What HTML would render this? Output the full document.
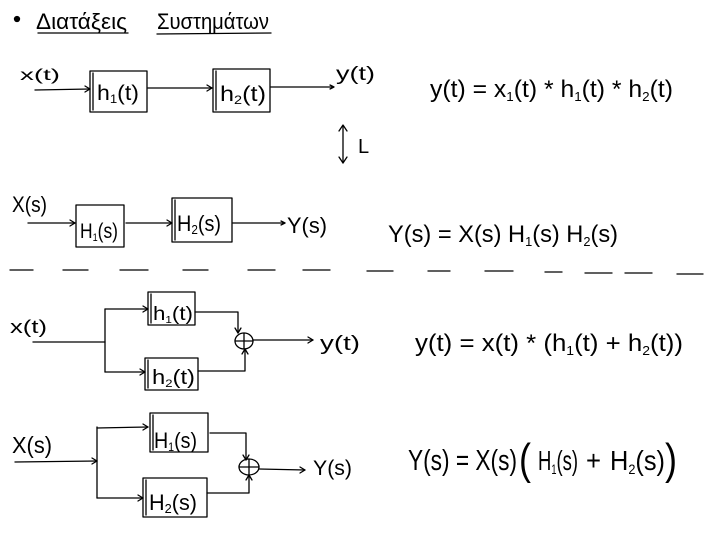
<!DOCTYPE html>
<html><head><meta charset="utf-8"><style>
html,body{margin:0;padding:0;background:#fff;}
svg{display:block;}
text{font-family:"Liberation Sans",sans-serif;fill:#000;}
</style></head><body>
<svg width="720" height="540" viewBox="0 0 720 540" xmlns="http://www.w3.org/2000/svg">
<g stroke="#000" stroke-width="1.3" fill="none" stroke-linecap="round" stroke-linejoin="round">
<!-- title -->
<circle cx="17" cy="19" r="2.5" fill="#000"/>
<path d="M38 33 L128 33"/>
<path d="M157 34 L271 33"/>

<!-- row 1 -->
<path d="M35 90 L90 89"/><path d="M85 86 L90 89 L85 92"/>
<rect x="90" y="71" width="57" height="41"/>
<path d="M93 73 L93 110"/>
<path d="M148 88 L212 88"/><path d="M207 85 L212 88 L207 91"/>
<rect x="213" y="69" width="57" height="43"/>
<path d="M216 71 L216 110"/>
<path d="M271 87 L333 87"/><path d="M330 85 L334 87 L330 89"/>
<!-- double arrow -->
<path d="M343 126 L343 163"/><path d="M339 131 L343 125 L347 131"/><path d="M339 157 L343 163 L347 157"/>

<!-- row 2 -->
<path d="M28 223 L75 223"/><path d="M70 220 L75 223 L70 226"/>
<rect x="76" y="205" width="48" height="42"/>
<path d="M126 223 L172 223"/><path d="M167 220 L172 223 L167 226"/>
<rect x="172" y="198" width="60" height="44"/>
<path d="M175 200 L175 240"/>
<path d="M233 223 L285 223"/><path d="M281 221 L285 223 L281 225"/>

<!-- dashed separator -->
<path d="M10 270 L33 270 M63 270 L88 270 M120 270 L148 270 M183 270 L208 270 M248 270 L275 270 M303 270 L330 270 M367 271 L393 271 M428 271 L450 271 M485 271 L513 271 M545 272 L562 272 M585 273 L612 273 M625 273 L652 273 M677 274 L703 274"/>

<!-- row 3 -->
<path d="M33 342 L105 342"/>
<path d="M105 309 L105 372"/>
<path d="M105 309 L148 309"/><path d="M143 306 L148 309 L143 312"/>
<rect x="148" y="292" width="47" height="33"/>
<path d="M151 294 L151 323"/>
<path d="M195 312 L238 312 L238 333"/><path d="M235 328 L238 333 L241 328"/>
<ellipse cx="244" cy="341" rx="9" ry="8"/>
<path d="M235 341 L253 341 M244 333 L244 349"/>
<path d="M105 372 L145 372"/><path d="M140 369 L145 372 L140 375"/>
<rect x="145" y="358" width="53" height="32"/>
<path d="M148 360 L148 388"/>
<path d="M198 371 L245 371 L245 349"/><path d="M242 354 L245 349 L248 354"/>
<path d="M253 340 L313 340"/><path d="M308 337 L313 340 L308 343"/>

<!-- row 4 -->
<path d="M15 462 L97 461"/><path d="M92 458 L97 461 L92 464"/>
<path d="M97 427 L97 498"/>
<path d="M97 428 L148 427"/><path d="M143 424 L148 427 L143 430"/>
<rect x="150" y="413" width="58" height="39"/>
<path d="M153 415 L153 450"/>
<path d="M210 433 L246 433 L246 460"/><path d="M243 455 L246 460 L249 455"/>
<ellipse cx="249" cy="467" rx="10" ry="8"/>
<path d="M239 467 L259 467 M249 459 L249 475"/>
<path d="M97 498 L143 498"/><path d="M138 495 L143 498 L138 501"/>
<rect x="143" y="478" width="64" height="39"/>
<path d="M146 480 L146 515"/>
<path d="M207 493 L249 493 L249 475"/><path d="M246 480 L249 475 L252 480"/>
<path d="M259 469 L305 470"/><path d="M300 467 L305 470 L300 473"/>
</g>

<!-- text -->
<text x="36" y="29" font-size="22" textLength="91" lengthAdjust="spacingAndGlyphs">Διατάξεις</text>
<text x="157" y="29" font-size="22" textLength="112" lengthAdjust="spacingAndGlyphs">Συστημάτων</text>

<text x="20" y="80" font-size="16" textLength="40" lengthAdjust="spacingAndGlyphs">x(t)</text>
<text x="97" y="100" font-size="21" textLength="42" lengthAdjust="spacingAndGlyphs">h<tspan font-size="12" dy="3">1</tspan><tspan dy="-3">(t)</tspan></text>
<text x="220" y="101" font-size="21" textLength="46" lengthAdjust="spacingAndGlyphs">h<tspan font-size="12" dy="3">2</tspan><tspan dy="-3">(t)</tspan></text>
<text x="336" y="80" font-size="19" textLength="39" lengthAdjust="spacingAndGlyphs">y(t)</text>
<text x="358" y="153" font-size="20">L</text>
<text x="430" y="97" font-size="24" textLength="243" lengthAdjust="spacingAndGlyphs">y(t) = x<tspan font-size="13" dy="4">1</tspan><tspan dy="-4">(t) * h</tspan><tspan font-size="13" dy="4">1</tspan><tspan dy="-4">(t) * h</tspan><tspan font-size="13" dy="4">2</tspan><tspan dy="-4">(t)</tspan></text>

<text x="12" y="212" font-size="22" textLength="35" lengthAdjust="spacingAndGlyphs">X(s)</text>
<text x="80" y="238" font-size="21" textLength="38" lengthAdjust="spacingAndGlyphs">H<tspan font-size="11" dy="3">1</tspan><tspan dy="-3">(s)</tspan></text>
<text x="177" y="231" font-size="22" textLength="44" lengthAdjust="spacingAndGlyphs">H<tspan font-size="13" dy="3">2</tspan><tspan dy="-3">(s)</tspan></text>
<text x="287" y="233" font-size="22" textLength="40" lengthAdjust="spacingAndGlyphs">Y(s)</text>
<text x="388" y="242" font-size="24" textLength="230" lengthAdjust="spacingAndGlyphs">Y(s) = X(s) H<tspan font-size="13" dy="4">1</tspan><tspan dy="-4">(s) H</tspan><tspan font-size="13" dy="4">2</tspan><tspan dy="-4">(s)</tspan></text>

<text x="10" y="333" font-size="18" textLength="37" lengthAdjust="spacingAndGlyphs">x(t)</text>
<text x="153" y="320" font-size="19" textLength="40" lengthAdjust="spacingAndGlyphs">h<tspan font-size="10" dy="3">1</tspan><tspan dy="-3">(t)</tspan></text>
<text x="152" y="384" font-size="20" textLength="43" lengthAdjust="spacingAndGlyphs">h<tspan font-size="11" dy="3">2</tspan><tspan dy="-3">(t)</tspan></text>
<text x="320" y="350" font-size="20" textLength="40" lengthAdjust="spacingAndGlyphs">y(t)</text>
<text x="415" y="351" font-size="24" textLength="268" lengthAdjust="spacingAndGlyphs">y(t) = x(t) * (h<tspan font-size="13" dy="4">1</tspan><tspan dy="-4">(t) + h</tspan><tspan font-size="13" dy="4">2</tspan><tspan dy="-4">(t))</tspan></text>

<text x="12" y="453" font-size="23" textLength="40" lengthAdjust="spacingAndGlyphs">X(s)</text>
<text x="154" y="448" font-size="22" textLength="43" lengthAdjust="spacingAndGlyphs">H<tspan font-size="12" dy="3">1</tspan><tspan dy="-3">(s)</tspan></text>
<text x="149" y="510" font-size="22" textLength="48" lengthAdjust="spacingAndGlyphs">H<tspan font-size="13" dy="3">2</tspan><tspan dy="-3">(s)</tspan></text>
<text x="313" y="475" font-size="21" textLength="39" lengthAdjust="spacingAndGlyphs">Y(s)</text>

<text x="408" y="470" font-size="29" textLength="109" lengthAdjust="spacingAndGlyphs">Y(s) = X(s)</text>
<text x="519" y="474" font-size="44" textLength="12" lengthAdjust="spacingAndGlyphs">(</text>
<text x="538" y="470" font-size="28" textLength="40" lengthAdjust="spacingAndGlyphs">H<tspan font-size="14" dy="4">1</tspan><tspan dy="-4">(s)</tspan></text>
<text x="586" y="470" font-size="28" textLength="15" lengthAdjust="spacingAndGlyphs">+</text>
<text x="610" y="470" font-size="28" textLength="55" lengthAdjust="spacingAndGlyphs">H<tspan font-size="14" dy="4">2</tspan><tspan dy="-4">(s)</tspan></text>
<text x="665" y="474" font-size="44" textLength="12" lengthAdjust="spacingAndGlyphs">)</text>
</svg>
</body></html>
